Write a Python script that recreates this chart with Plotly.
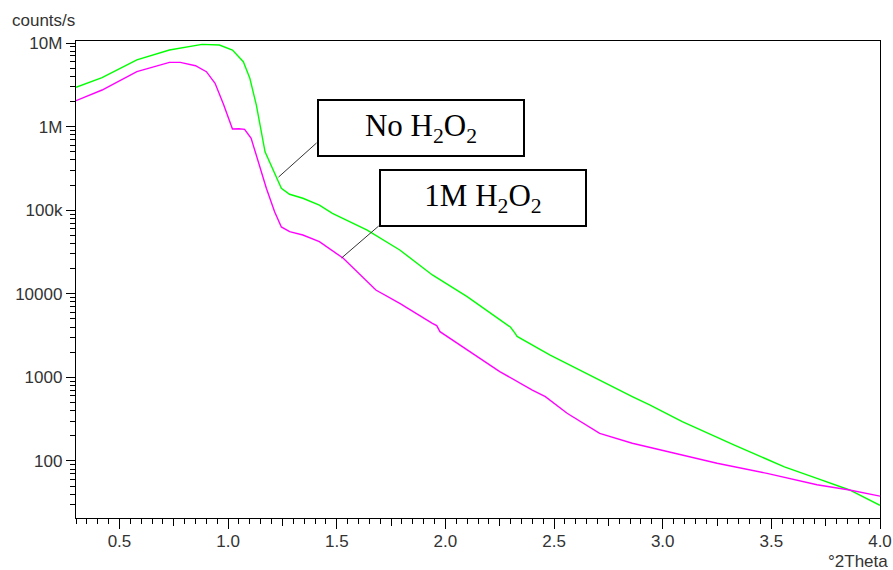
import plotly.graph_objects as go

# ---- data ----
theta_no = [0.30, 0.42, 0.58, 0.73, 0.88, 0.96, 1.02, 1.07, 1.10, 1.13, 1.17, 1.21, 1.245, 1.283,
            1.344, 1.42, 1.48, 1.64, 1.79, 1.94, 2.10, 2.25, 2.30, 2.32, 2.33, 2.48, 2.63, 2.86,
            2.94, 3.09, 3.33, 3.56, 3.71, 3.86, 4.00]
counts_no = [2.95e6, 3.85e6, 6.27e6, 8.24e6, 9.64e6, 9.46e6, 8.24e6, 5.97e6, 3.78e6, 1.81e6, 5.0e5,
             2.88e5, 1.83e5, 1.55e5, 1.39e5, 1.15e5, 9.18e4, 5.79e4, 3.34e4, 1.68e4, 9230, 4900,
             3980, 3390, 3090, 1860, 1175, 589, 468, 295, 155, 85, 62, 45, 29.5]

theta_1m = [0.30, 0.42, 0.58, 0.73, 0.78, 0.85, 0.90, 0.94, 0.98, 1.02, 1.05, 1.076, 1.106, 1.13,
            1.176, 1.214, 1.245, 1.283, 1.344, 1.42, 1.53, 1.68, 1.79, 1.94, 1.96, 1.975, 2.10,
            2.25, 2.40, 2.46, 2.56, 2.71, 2.86, 3.02, 3.25, 3.48, 3.71, 3.86, 4.00]
counts_1m = [2.04e6, 2.74e6, 4.54e6, 5.87e6, 5.87e6, 5.35e6, 4.54e6, 3.30e6, 1.81e6, 9.35e5, 9.44e5,
             9.27e5, 7.24e5, 4.57e5, 1.83e5, 9.6e4, 6.31e4, 5.53e4, 5.05e4, 4.2e4, 2.66e4, 1.11e4,
             7690, 4440, 4170, 3520, 2130, 1175, 706, 589, 372, 214, 163, 129, 94, 71, 52, 45, 38]

# leader lines: (curve point, box corner)
leader_no_x = [1.232, 1.407]
leader_no_y = [2.49e5, 6.37e5]
leader_1m_x = [1.522, 1.693]
leader_1m_y = [2.68e4, 6.47e4]

label_no = "No H<sub>2</sub>O<sub>2</sub>"
label_1m = "1M H<sub>2</sub>O<sub>2</sub>"

ytick_vals = [100, 1000, 10000, 100000, 1000000, 10000000]
ytick_text = ["100", "1000", "10000", "100k", "1M", "10M"]
xtick_vals = [0.5, 1.0, 1.5, 2.0, 2.5, 3.0, 3.5, 4.0]
xtick_mid = [0.75, 1.25, 1.75, 2.25, 2.75, 3.25, 3.75]

y_minor = [m * 10 ** e for e in range(1, 8) for m in range(2, 10)]

fig = go.Figure()
fig.add_trace(go.Scatter(x=theta_no, y=counts_no, mode="lines",
                         line=dict(color="#00ff00", width=1.4), showlegend=False))
fig.add_trace(go.Scatter(x=theta_1m, y=counts_1m, mode="lines",
                         line=dict(color="#ff00ff", width=1.4), showlegend=False))
fig.add_trace(go.Scatter(x=leader_no_x, y=leader_no_y, mode="lines",
                         line=dict(color="#333333", width=1), showlegend=False))
fig.add_trace(go.Scatter(x=leader_1m_x, y=leader_1m_y, mode="lines",
                         line=dict(color="#333333", width=1), showlegend=False))
# empty traces so the extra tick axes are drawn
fig.add_trace(go.Scatter(x=[None], y=[None], xaxis="x2", yaxis="y", showlegend=False))
fig.add_trace(go.Scatter(x=[None], y=[None], xaxis="x3", yaxis="y", showlegend=False))

tickfont = dict(family="Liberation Sans, Arial, sans-serif", size=17, color="#333333")
boxfont = dict(family="Liberation Serif, Times New Roman, serif", size=31, color="black")

tick_axis = dict(range=[0.3, 4.0], overlaying="x", anchor="y", side="bottom",
                 tickmode="array", ticks="outside", tickwidth=1.3, tickcolor="black",
                 showticklabels=False, showline=False, showgrid=False, zeroline=False)

fig.update_layout(
    width=893, height=570,
    margin=dict(l=76, r=13, t=41, b=52, autoexpand=False),
    paper_bgcolor="white", plot_bgcolor="white",
    hovermode=False,
    xaxis=dict(range=[0.3, 4.0], tickmode="array", tickvals=xtick_vals,
               ticktext=[f"{v:.1f}" for v in xtick_vals],
               ticks="outside", ticklen=7, tickwidth=1.3, tickcolor="black",
               showline=True, linecolor="black", linewidth=1.3, mirror=True,
               showgrid=False, zeroline=False, tickfont=tickfont,
               minor=dict(ticks="outside", ticklen=5, tickwidth=1.2, tickcolor="black",
                          dtick=0.05, tick0=0, showgrid=False)),
    xaxis2=dict(tick_axis, tickvals=xtick_vals, ticklen=10),
    xaxis3=dict(tick_axis, tickvals=xtick_mid, ticklen=7),
    yaxis=dict(type="log", range=[1.318, 7.024], tickmode="array", tickvals=ytick_vals,
               ticktext=ytick_text, ticks="outside", ticklen=9, tickwidth=1.3, tickcolor="black",
               showline=True, linecolor="black", linewidth=1.3, mirror=True,
               showgrid=False, zeroline=False, tickfont=tickfont,
               minor=dict(ticks="outside", ticklen=5, tickwidth=1.2, tickcolor="black",
                          tickmode="array", tickvals=y_minor, showgrid=False)),
    annotations=[
        dict(text="counts/s", xref="paper", yref="paper", x=-0.0821, y=1.044,
             xanchor="left", yanchor="middle", showarrow=False, font=tickfont),
        dict(text="°2Theta", xref="paper", yref="paper", x=1.0124, y=-0.0922,
             xanchor="right", yanchor="middle", showarrow=False, font=tickfont),
        dict(text=label_no, xref="paper", yref="paper", x=0.2998, y=0.8784,
             xanchor="left", yanchor="top", showarrow=False, width=204, height=54,
             bordercolor="black", borderwidth=2, borderpad=0, bgcolor="white", font=boxfont),
        dict(text=label_1m, xref="paper", yref="paper", x=0.3769, y=0.7317,
             xanchor="left", yanchor="top", showarrow=False, width=204, height=54,
             bordercolor="black", borderwidth=2, borderpad=0, bgcolor="white", font=boxfont),
    ],
)

fig.write_html("out.html", config={"displayModeBar": False},
               post_script="document.body.style.margin='0';document.body.style.overflow='hidden';")
